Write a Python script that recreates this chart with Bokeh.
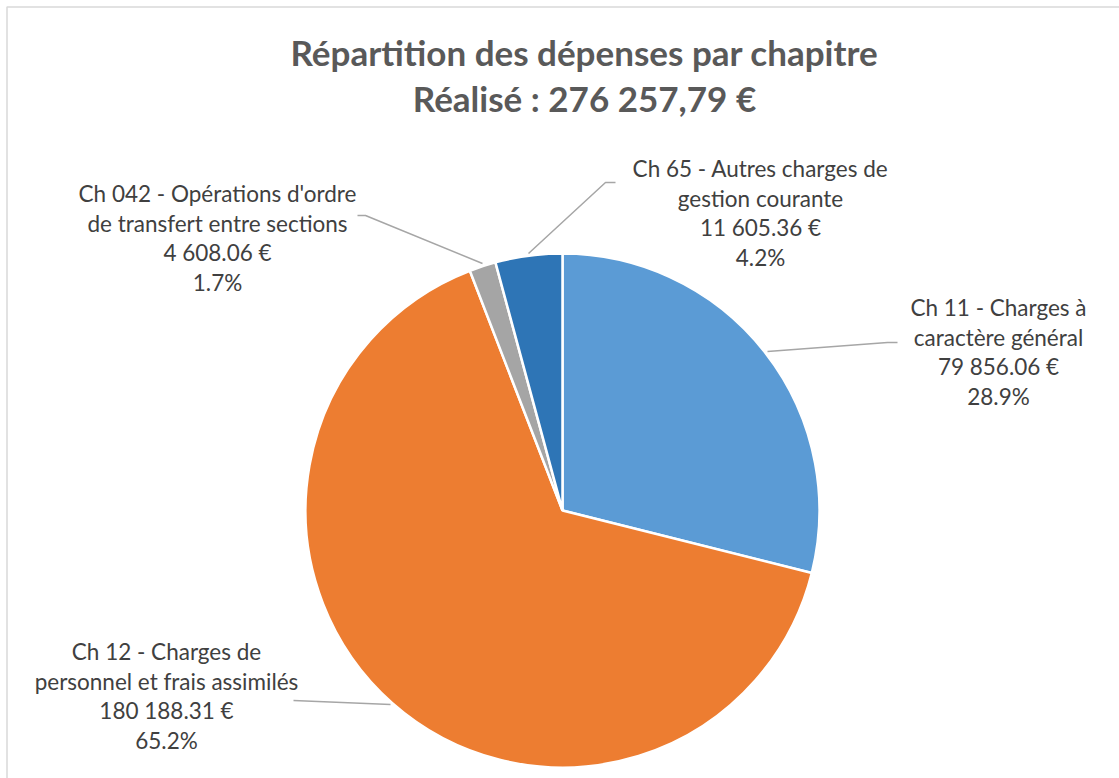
import math
from bokeh.plotting import figure
from bokeh.models import Range1d
from bokeh.core.properties import value
from bokeh.embed import file_html
from bokeh.resources import INLINE

# ---- data ----
categories = ["Ch 11 - Charges à\ncaractère général",
              "Ch 12 - Charges de\npersonnel et frais assimilés",
              "Ch 042 - Opérations d'ordre\nde transfert entre sections",
              "Ch 65 - Autres charges de\ngestion courante"]
amounts = [79856.06, 180188.31, 4608.06, 11605.36]
amount_labels = ["79 856.06 €", "180 188.31 €", "4 608.06 €", "11 605.36 €"]
colors = ["#5B9BD5", "#ED7D31", "#A5A5A5", "#2E75B6"]
title_lines = ["Répartition des dépenses par chapitre", "Réalisé : 276 257,79 €"]

# ---- layout (screen px of the 1119x778 page) ----
W, H = 1119, 778
def Y(sy):
    return 778 - sy

cx, cy, R = 562, 510, 257
label_pos = [(998, 307), (166, 651), (217, 193), (760, 168)]   # first line centre
line_gap = 29.5
leaders = [
    [(767, 351), (887, 342), (897, 342)],
    [(390, 704), (293, 700)],
    [(482, 263), (365, 215), (357, 215)],
    [(528, 253), (605, 182), (615, 182)],
]

p = figure(width=W, height=H, output_backend="svg", toolbar_location=None,
           x_range=Range1d(0, 1119), y_range=Range1d(0, 778), min_border=0)
p.axis.visible = False
p.grid.visible = False
p.outline_line_color = None
p.background_fill_color = "white"

# frame (left & top edges visible)
p.line([6.5, 6.5, 1119], [Y(778), Y(6.5), Y(6.5)], line_color="#D9D9D9", line_width=1.5)

total = sum(amounts)
starts, ends = [], []
a = math.pi / 2
for v in amounts:
    starts.append(a)
    a -= 2 * math.pi * v / total
    ends.append(a)

p.wedge(x=[cx] * 4, y=[Y(cy)] * 4, radius=R, radius_units="screen",
        start_angle=starts, end_angle=ends, direction="clock",
        fill_color=colors, line_color="white", line_width=2.5)

for pts in leaders:
    p.line([q[0] for q in pts], [Y(q[1]) for q in pts], line_color="#A6A6A6", line_width=1.5)

tx, ty, tt = [], [], []
for i, cat in enumerate(categories):
    pct = f"{100 * amounts[i] / total:.1f}%"
    lines = cat.split("\n") + [amount_labels[i], pct]
    x0, y0 = label_pos[i]
    for j, ln in enumerate(lines):
        tx.append(x0); ty.append(Y(y0 + j * line_gap)); tt.append(ln)
p.text(x=tx, y=ty, text=tt, text_align="center", text_baseline="middle",
       text_font=value("Lato"), text_font_size="22.5px", text_color="#404040")

p.text(x=[584, 584], y=[Y(51), Y(97)], text=title_lines, text_align="center",
       text_baseline="middle", text_font=value("Lato"), text_font_style="bold",
       text_font_size="35px", text_color="#595959")

open("out.html", "w").write(file_html(p, INLINE))
